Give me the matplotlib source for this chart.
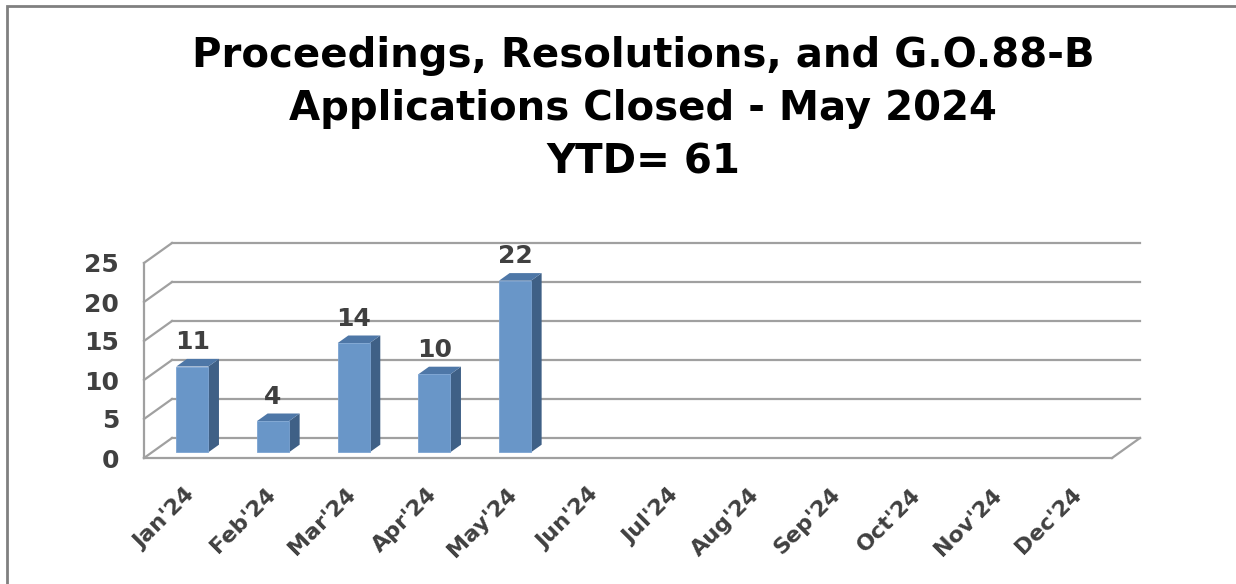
import matplotlib
matplotlib.use('Agg')
import matplotlib.pyplot as plt
from matplotlib.patches import Polygon, Rectangle

# data
months = ["Jan'24", "Feb'24", "Mar'24", "Apr'24", "May'24", "Jun'24",
          "Jul'24", "Aug'24", "Sep'24", "Oct'24", "Nov'24", "Dec'24"]
closed = [11, 4, 14, 10, 22]
yticks = [0, 5, 10, 15, 20, 25]
title = "Proceedings, Resolutions, and G.O.88-B\nApplications Closed - May 2024\nYTD= 61"

front_col = '#6996C8'
side_col = '#3F6086'
top_col = '#4E77A7'
grid_col = '#A0A0A0'
text_col = '#404040'

W, H = 1236, 584
fig = plt.figure(figsize=(W / 100, H / 100), dpi=100)
ax = fig.add_axes([144 / W, (H - 458) / H, 968 / W, 195 / H])
ax.set_xlim(0, len(months))
ax.set_ylim(0, 25)

# fake 3d: full depth of the plot box in pixels, turned into data units
ppx = 968 / len(months)
ppy = 195 / 25
DX = 28 / ppx
DY = 20 / ppy

# back wall gridlines and the left wall diagonals
for v in yticks:
    ax.plot([DX, len(months) + DX], [v + DY, v + DY], color=grid_col, lw=1.6, clip_on=False, zorder=1)
    ax.plot([0, DX], [v, v + DY], color=grid_col, lw=1.6, clip_on=False, zorder=1)
# front edges of the floor and the left wall
ax.plot([0, len(months)], [0, 0], color=grid_col, lw=1.6, clip_on=False, zorder=1)
ax.plot([len(months), len(months) + DX], [0, DY], color=grid_col, lw=1.6, clip_on=False, zorder=1)
ax.plot([0, 0], [0, 25], color=grid_col, lw=1.6, clip_on=False, zorder=1)

# bars
bw = 0.397
d0, d1 = 0.285, 0.665
for i, v in enumerate(closed):
    x0 = i + 0.5 - bw / 2 + d0 * DX
    x1 = x0 + bw
    y0 = d0 * DY
    y1 = y0 + v
    ox, oy = (d1 - d0) * DX, (d1 - d0) * DY
    side = Polygon([(x1, y0), (x1 + ox, y0 + oy), (x1 + ox, y1 + oy), (x1, y1)],
                   closed=True, fc=side_col, ec='none', clip_on=False, zorder=3)
    top = Polygon([(x0, y1), (x1, y1), (x1 + ox, y1 + oy), (x0 + ox, y1 + oy)],
                  closed=True, fc=top_col, ec='none', clip_on=False, zorder=3)
    ax.add_patch(side)
    ax.add_patch(top)
    ax.add_patch(Rectangle((x0, y0), bw, v, fc=front_col, ec='#7BA3D2', lw=0.6,
                           clip_on=False, zorder=4))
    ax.annotate(str(v), (x0 + bw / 2, y1), xytext=(0, 9), textcoords='offset points',
                ha='center', va='bottom', fontsize=18, fontweight='bold',
                color=text_col, annotation_clip=False, zorder=5)

for s in ax.spines.values():
    s.set_visible(False)
ax.set_yticks(yticks)
ax.set_yticklabels([str(t) for t in yticks], fontsize=18, fontweight='bold', color=text_col)
ax.set_xticks([i + 0.5 for i in range(len(months))])
ax.set_xticklabels(months, rotation=45, ha='right', rotation_mode='anchor',
                   fontsize=16, fontweight='bold', color=text_col)
ax.tick_params(axis='y', length=0, pad=18)
ax.tick_params(axis='x', length=0, pad=19)
ax.patch.set_visible(False)

fig.text(643 / W, 1 - 109 / H, title, ha='center', va='center', fontsize=29,
         fontweight='bold', color='black', linespacing=1.43)

# outer frame of the chart area
fig.patches.append(Rectangle((7 / W, -0.1), 1.2, 1.1 - 6 / H, transform=fig.transFigure,
                             fill=False, ec='#808080', lw=2))

fig.savefig('out.png', dpi=100)
